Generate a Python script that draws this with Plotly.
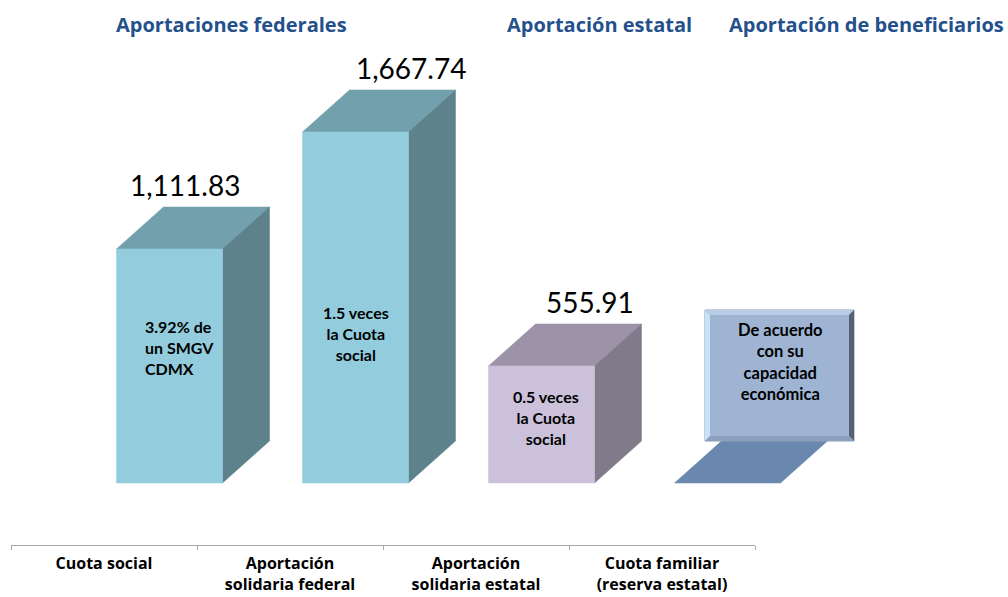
import plotly.graph_objects as go

# ---------------- data ----------------
categories = ["Cuota social", "Aportación<br>solidaria federal",
              "Aportación<br>solidaria estatal", "Cuota familiar<br>(reserva estatal)"]
values = [1111.83, 1667.74, 555.91, 0]
value_labels = ["1,111.83", "1,667.74", "555.91", ""]
bar_notes = ["3.92% de<br>un SMGV<br>CDMX", "1.5 veces<br>la Cuota<br>social",
             "0.5 veces<br>la Cuota<br>social", ""]
note_box_text = "De acuerdo<br>con su<br>capacidad<br>económica"
headers = ["Aportaciones federales", "Aportación estatal", "Aportación de beneficiarios"]

# ---------------- styles / geometry ----------------
W, H = 1008, 597
FONT = "Lato"
HFONT = "Open Sans"
PX_CAT = 186.0          # pixels per category
PX_UNIT = 0.2105        # pixels per value unit
BASE_PX = 483           # pixel row of value 0
CAT0_PX = 104           # pixel column of first category centre
front_colors = ["#93CDDD", "#93CDDD", "#CCC1DA", None]
top_colors = ["#72A0AC", "#72A0AC", "#9D93A8", "#6A88AD"]
side_colors = ["#5E828B", "#5E828B", "#807A8A", None]
label_xshift = [-32, 8, 1, 0]
note_frac = [0.577, 0.427, 0.556, 0]
note_align = ["left", "center", "center", "center"]
note_xshift = [10, 0, 4, 0]
header_x_px = [231, 599, 866]
header_color = "#24508C"

off = 12.5 / PX_CAT     # bar front left offset from category centre
bw = 106 / PX_CAT       # front face width
ddx = 47 / PX_CAT       # depth x
ddy = 42 / PX_UNIT      # depth y

fig = go.Figure()

# invisible trace for the category-axis subplot
fig.add_trace(go.Scatter(x=[0, 3], y=[0, 0], mode="markers", marker=dict(opacity=0),
                         hoverinfo="skip", showlegend=False, xaxis="x", yaxis="y"))

def poly(xs, ys, color):
    fig.add_trace(go.Scatter(x=xs + [xs[0]], y=ys + [ys[0]], mode="lines", fill="toself",
                             fillcolor=color, line=dict(width=0.5, color=color),
                             hoverinfo="skip", showlegend=False, xaxis="x2", yaxis="y2"))

for i, v in enumerate(values):
    x0 = i + off
    x1 = x0 + bw
    # top face
    poly([x0, x1, x1 + ddx, x0 + ddx], [v, v, v + ddy, v + ddy], top_colors[i])
    if v > 0:
        # side face
        poly([x1, x1 + ddx, x1 + ddx, x1], [0, ddy, v + ddy, v], side_colors[i])
        # front face
        poly([x0, x1, x1, x0], [0, 0, v, v], front_colors[i])

annotations = []
for i, v in enumerate(values):
    x0 = i + off
    if value_labels[i]:
        annotations.append(dict(x=x0 + bw / 2 + ddx, y=v + ddy, xref="x2", yref="y2",
                                text=value_labels[i], showarrow=False, xanchor="center",
                                yanchor="middle", yshift=22, xshift=label_xshift[i],
                                font=dict(family=FONT, size=28, color="#000000")))
    if bar_notes[i]:
        annotations.append(dict(x=x0 + bw / 2, y=v * note_frac[i], xref="x2", yref="y2",
                                text="<b>" + bar_notes[i] + "</b>", showarrow=False,
                                align=note_align[i], xanchor="center", yanchor="middle",
                                xshift=note_xshift[i],
                                font=dict(family=FONT, size=16, color="#000000")))

# note box for the last category (bevelled)
bx0 = (705 - CAT0_PX) / PX_CAT
bx1 = (854 - CAT0_PX) / PX_CAT
by0 = ddy
by1 = ddy + 131 / PX_UNIT
bev_x = 5 / PX_CAT
bev_y = 5 / PX_UNIT
shapes = []

def path_shape(pts, color, lw=0, lc=None):
    d = "M " + " L ".join(f"{x},{y}" for x, y in pts) + " Z"
    return dict(type="path", path=d, xref="x2", yref="y2", fillcolor=color,
                line=dict(width=lw, color=lc or color), layer="above")

shapes.append(path_shape([(bx0, by0), (bx1, by0), (bx1, by1), (bx0, by1)], "#9FB4D3", 1, "#8A9CB5"))
shapes.append(path_shape([(bx0, by0), (bx0 + bev_x, by0 + bev_y), (bx0 + bev_x, by1 - bev_y), (bx0, by1)], "#C6E3F7"))
shapes.append(path_shape([(bx0, by1), (bx1, by1), (bx1 - bev_x, by1 - bev_y), (bx0 + bev_x, by1 - bev_y)], "#B7CCE6"))
shapes.append(path_shape([(bx1, by0), (bx1, by1), (bx1 - bev_x, by1 - bev_y), (bx1 - bev_x, by0 + bev_y)], "#56606F"))
shapes.append(path_shape([(bx0, by0), (bx1, by0), (bx1 - bev_x, by0 + bev_y), (bx0 + bev_x, by0 + bev_y)], "#8DA1BE"))

annotations.append(dict(x=(bx0 + bx1) / 2, y=(by0 + by1) / 2, xref="x2", yref="y2",
                        text="<b>" + note_box_text + "</b>", showarrow=False, align="center",
                        xanchor="center", yanchor="middle", yshift=14,
                        font=dict(family=FONT, size=16.5, color="#000000")))

for hx, htxt in zip(header_x_px, headers):
    annotations.append(dict(x=hx / W, y=1 - 25 / H, xref="paper", yref="paper",
                            text="<b>" + htxt + "</b>", showarrow=False,
                            xanchor="center", yanchor="middle",
                            font=dict(family=HFONT, size=20, color=header_color)))

fig.update_layout(
    width=W, height=H,
    margin=dict(l=0, r=0, t=0, b=0, autoexpand=False),
    paper_bgcolor="white", plot_bgcolor="rgba(0,0,0,0)",
    showlegend=False,
    xaxis=dict(domain=[11 / W, 755 / W], range=[-0.5, 3.5], tickmode="array",
               tickvals=[0, 1, 2, 3], ticktext=["<b>" + c + "</b>" for c in categories],
               ticks="", showline=True, linecolor="#A6A6A6", linewidth=1, automargin=False,
               showgrid=False, zeroline=False, fixedrange=True, ticklabelstandoff=4,
               tickfont=dict(family=HFONT, size=16, color="#000000"),
               minor=dict(tickmode="array", tickvals=[-0.5, 0.5, 1.5, 2.5, 3.5],
                          ticks="outside", ticklen=4, tickcolor="#A6A6A6", showgrid=False),
               anchor="y"),
    yaxis=dict(domain=[52 / H, 1], range=[0, 1], visible=False, fixedrange=True, anchor="x"),
    xaxis2=dict(domain=[0, 1], range=[-CAT0_PX / PX_CAT, (W - CAT0_PX) / PX_CAT],
                visible=False, fixedrange=True, anchor="y2"),
    yaxis2=dict(domain=[0, 1], range=[(BASE_PX - H) / PX_UNIT, BASE_PX / PX_UNIT],
                visible=False, fixedrange=True, anchor="x2"),
    annotations=annotations,
    shapes=shapes,
)

fig.write_html("out.html", config={"displayModeBar": False},
               post_script="document.body.style.margin='0';")
